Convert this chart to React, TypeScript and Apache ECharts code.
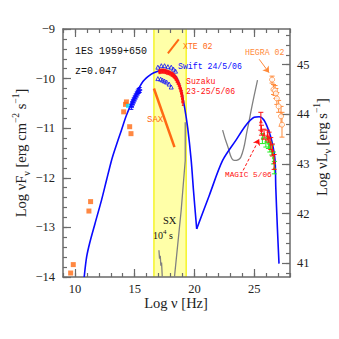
import React, { useEffect, useRef } from 'react';
import * as echarts from 'echarts';

// ---------- axes ----------
const X_MIN = 9, X_MAX = 28;
const Y_MIN = -14, Y_MAX = -9;
const LUM_OFFSET = 54.72; // log(4 pi d_L^2)
const X_MAJOR = [10, 15, 20, 25];
const Y_MAJOR = [-14, -13, -12, -11, -10, -9];
const L_MAJOR = [41, 42, 43, 44, 45];

// ---------- data (log nu, log nuFnu) ----------
const syncModel = [
  [10.775, -14.0], [10.975, -13.6], [11.25, -13.3], [11.67, -12.93], [12.225, -12.45],
  [12.64, -12.05], [13.06, -11.65], [13.33, -11.44], [13.89, -11.04], [14.31, -10.74],
  [14.86, -10.43], [15.69, -10.06], [16.39, -9.91], [16.94, -9.85], [17.33, -9.83],
  [17.75, -9.85], [18.47, -9.96], [18.89, -10.23], [19.17, -10.57], [19.44, -11.0],
  [19.73, -11.65], [19.92, -12.25], [20.19, -13.03],
];
const sscModel = [
  [20.19, -13.03], [21.25, -12.35], [22.36, -11.65], [23.48, -11.24], [24.31, -10.94],
  [25.0, -10.78], [25.42, -10.77], [25.83, -10.84], [26.25, -11.07], [26.53, -11.31],
  [26.75, -11.65], [26.81, -12.19], [26.94, -12.99], [27.08, -13.73],
];
const archival = [
  [14.31, -10.47], [14.23, -10.52], [14.08, -10.67], [14.58, -10.97], [14.69, -11.11],
  [11.31, -12.48], [11.17, -12.67], [9.86, -13.75], [9.64, -13.92],
];
const cyanPoint = [[14.44, -10.55]];
const swiftUV = [
  [14.72, -10.57, 0.05, 0.05], [14.78, -10.52, 0.05, 0.05], [14.85, -10.48, 0.05, 0.05],
  [14.92, -10.44, 0.05, 0.05], [15.0, -10.4, 0.05, 0.05], [15.08, -10.36, 0.05, 0.05],
  [15.17, -10.32, 0.05, 0.05], [15.25, -10.28, 0.05, 0.05], [15.33, -10.25, 0.05, 0.05],
  [15.42, -10.23, 0.05, 0.05],
];
const swiftXrtHigh = [
  [16.94, -9.77], [17.23, -9.74], [17.5, -9.74], [17.78, -9.76], [18.06, -9.77],
  [18.25, -9.81], [18.42, -9.85],
];
const swiftXrtLow = [
  [16.94, -10.0], [17.17, -10.01], [17.33, -10.03], [17.5, -10.05], [17.67, -10.07],
  [17.88, -10.11], [18.06, -10.17],
];
const suzaku = [
  [17.08, -9.86, 0.04, 0.04], [17.2, -9.85, 0.04, 0.04], [17.33, -9.85, 0.04, 0.04],
  [17.45, -9.85, 0.04, 0.04], [17.58, -9.86, 0.04, 0.04], [17.7, -9.87, 0.04, 0.04],
  [17.83, -9.88, 0.04, 0.04], [17.95, -9.89, 0.04, 0.04], [18.08, -9.91, 0.04, 0.04],
  [18.17, -9.92, 0.04, 0.04], [18.25, -9.94, 0.04, 0.04], [18.33, -9.96, 0.04, 0.04],
  [18.42, -9.99, 0.04, 0.04], [18.5, -10.02, 0.05, 0.05], [18.58, -10.06, 0.05, 0.05],
  [18.67, -10.1, 0.05, 0.05], [18.75, -10.15, 0.05, 0.05], [18.82, -10.2, 0.05, 0.05],
  [18.88, -10.25, 0.05, 0.05], [18.93, -10.3, 0.06, 0.06], [18.96, -10.35, 0.06, 0.06],
  [19.0, -10.41, 0.06, 0.06], [19.03, -10.47, 0.07, 0.07],
];
const xte02 = [[17.78, -9.49], [18.69, -9.21]];
const sax = [[16.61, -10.2], [18.33, -11.38]];
const hegra02 = [
  [26.5, -10.02, 0.07, 0.07], [26.62, -10.22, 0.1, 0.1], [26.75, -10.24, 0.1, 0.1],
  [26.82, -10.3, 0.1, 0.1], [26.9, -10.4, 0.12, 0.12], [27.05, -10.56, 0.12, 0.12],
  [27.25, -10.76, 0.2, 0.2], [27.33, -10.93, 0.25, 0.25],
];
const magicRed = [
  [25.56, -10.86, 0.18, 0.18], [25.61, -11.04, 0.1, 0.1], [25.83, -11.12, 0.1, 0.1],
  [26.11, -11.14, 0.1, 0.1], [26.25, -11.18, 0.1, 0.1], [26.39, -11.31, 0.12, 0.12],
  [26.53, -11.44, 0.12, 0.12], [26.67, -11.68, 0.15, 0.15],
];
const magicGreen = [
  [25.69, -11.21, 0.1, 0.1], [25.98, -11.28, 0.1, 0.1], [26.19, -11.31, 0.1, 0.1],
  [26.31, -11.38, 0.1, 0.1], [26.48, -11.44, 0.1, 0.1], [26.61, -11.6, 0.12, 0.12],
  [26.69, -11.82, 0.1, 0.15],
];
const sxSensMain = [[18.33, -14.0], [18.89, -12.66], [19.23, -11.65], [19.23, -10.88]];
const sxSensLeft = [[17.03, -13.46], [17.08, -13.63], [17.14, -13.57], [17.19, -13.77], [17.25, -13.71], [17.31, -14.0]];
const gammaSens = [
  [22.36, -11.04], [22.75, -11.34], [23.33, -11.65], [23.89, -11.58], [24.42, -11.04],
  [24.83, -10.54], [25.28, -10.03],
];
const sxBand = [[16.61, 19.31]];
const hegraArrow = [[25.42, -9.61], [26.25, -9.88]];
const magicArrow = [[24.08, -11.85], [25.42, -11.22]];

// ---------- colors ----------
const BLUE = '#0a0aff';
const RED = '#ff1010';
const ORANGE = '#ff6a13';
const LORANGE = '#ff8a3a';
const GREEN = '#22ee22';
const GREY = '#808080';
const AXIS = '#6a6a6a';

function steps(a: number, b: number, s: number) {
  const out: number[] = [];
  for (let v = a; v <= b + 1e-9; v += s) out.push(Math.round(v * 100) / 100);
  return out;
}

function errSeries(data: number[][], color: string, cap: number, z: number) {
  return {
    type: 'custom', z, silent: true, data, encode: { x: 0, y: 1 },
    renderItem: (_p: any, api: any) => {
      const x = api.value(0), y = api.value(1), lo = api.value(2), hi = api.value(3);
      const a = api.coord([x, y - lo]);
      const b = api.coord([x, y + hi]);
      const st = { stroke: color, lineWidth: 1 };
      return {
        type: 'group',
        children: [
          { type: 'line', shape: { x1: a[0], y1: a[1], x2: b[0], y2: b[1] }, style: st },
          { type: 'line', shape: { x1: a[0] - cap, y1: a[1], x2: a[0] + cap, y2: a[1] }, style: st },
          { type: 'line', shape: { x1: b[0] - cap, y1: b[1], x2: b[0] + cap, y2: b[1] }, style: st },
        ],
      };
    },
  };
}

const serif = 'Liberation Serif';
const mono = 'Liberation Mono';

function label(x: number, y: number, text: string, color: string, size = 8.5, family = mono, rich?: any) {
  return {
    type: 'text', x, y, z: 100,
    style: { text, fill: color, fontSize: size, fontFamily: family, align: 'left', verticalAlign: 'middle', rich },
  };
}

export default function App() {
  const ref = useRef<HTMLDivElement>(null);
  useEffect(() => {
    if (!ref.current) return;
    const chart = echarts.init(ref.current, undefined, { renderer: 'svg' });
    const axLine = { show: true, onZero: false, lineStyle: { color: AXIS, width: 1.5 } };
    const tickLS = { color: AXIS, width: 1.2 };
    const X_MINOR = steps(X_MIN, X_MAX, 1);
    const Y_MINOR = steps(Y_MIN, Y_MAX, 0.2);
    const L_MINOR = steps(40.8, 45.6, 0.2);
    const minusFmt = (v: number) => (v < 0 ? '\u2212' + Math.abs(v) : String(v));
    const lblStyle = { fontSize: 12.5, fontFamily: serif, color: '#222' };

    const xBase = { type: 'value', min: X_MIN, max: X_MAX, splitLine: { show: false } };
    const yBase = { type: 'value', min: Y_MIN, max: Y_MAX, splitLine: { show: false } };
    const lBase = { type: 'value', min: Y_MIN + LUM_OFFSET, max: Y_MAX + LUM_OFFSET, splitLine: { show: false } };

    const subRich = {
      sub: { fontSize: 10, fontFamily: serif, verticalAlign: 'bottom', lineHeight: 20, fill: '#222' },
      sup: { fontSize: 9.5, fontFamily: serif, verticalAlign: 'top', lineHeight: 20, fill: '#222' },
    };

    const option: any = {
      animation: false,
      backgroundColor: '#fff',
      textStyle: { fontFamily: serif },
      grid: { left: 63, right: 49, top: 29, bottom: 62, containLabel: false },
      xAxis: [
        { ...xBase, position: 'bottom', axisLine: axLine,
          axisTick: { show: true, inside: true, length: 8, customValues: X_MAJOR, lineStyle: tickLS },
          axisLabel: { show: true, customValues: X_MAJOR, margin: 5, ...lblStyle } },
        { ...xBase, position: 'bottom', axisLine: { show: false },
          axisTick: { show: true, inside: true, length: 4, customValues: X_MINOR, lineStyle: tickLS },
          axisLabel: { show: false } },
        { ...xBase, position: 'top', axisLine: axLine,
          axisTick: { show: true, inside: true, length: 8, customValues: X_MAJOR, lineStyle: tickLS },
          axisLabel: { show: false } },
        { ...xBase, position: 'top', axisLine: { show: false },
          axisTick: { show: true, inside: true, length: 4, customValues: X_MINOR, lineStyle: tickLS },
          axisLabel: { show: false } },
      ],
      yAxis: [
        { ...yBase, position: 'left', axisLine: axLine,
          axisTick: { show: true, inside: true, length: 8, customValues: Y_MAJOR, lineStyle: tickLS },
          axisLabel: { show: true, customValues: Y_MAJOR, margin: 8, formatter: minusFmt, ...lblStyle } },
        { ...yBase, position: 'left', axisLine: { show: false },
          axisTick: { show: true, inside: true, length: 4, customValues: Y_MINOR, lineStyle: tickLS },
          axisLabel: { show: false } },
        { ...lBase, position: 'right', axisLine: axLine,
          axisTick: { show: true, inside: true, length: 8, customValues: L_MAJOR, lineStyle: tickLS },
          axisLabel: { show: true, customValues: L_MAJOR, margin: 7, ...lblStyle } },
        { ...lBase, position: 'right', axisLine: { show: false },
          axisTick: { show: true, inside: true, length: 4, customValues: L_MINOR, lineStyle: tickLS },
          axisLabel: { show: false } },
      ],
      series: [
        {
          type: 'custom', z: 0, silent: true, data: sxBand, encode: { x: [0, 1] },
          renderItem: (_p: any, api: any) => {
            const a = api.coord([api.value(0), Y_MAX]);
            const b = api.coord([api.value(1), Y_MIN]);
            const shape = { x: a[0], y: a[1], width: b[0] - a[0], height: b[1] - a[1] };
            return {
              type: 'group',
              children: [
                { type: 'rect', shape, style: { fill: '#ffffa8', stroke: 'none' } },
                { type: 'line', shape: { x1: a[0], y1: a[1], x2: a[0], y2: b[1] }, style: { stroke: '#f2f200', lineWidth: 1.2 } },
                { type: 'line', shape: { x1: b[0], y1: a[1], x2: b[0], y2: b[1] }, style: { stroke: '#f2f200', lineWidth: 1.2 } },
              ],
            };
          },
        },
        { type: 'line', z: 2, data: sxSensMain, showSymbol: false, lineStyle: { color: GREY, width: 1.3 } },
        { type: 'line', z: 2, data: sxSensLeft, showSymbol: false, lineStyle: { color: GREY, width: 1.3 } },
        { type: 'line', z: 2, data: gammaSens, smooth: 0.4, showSymbol: false, lineStyle: { color: GREY, width: 1.3 } },
        { type: 'line', z: 3, data: syncModel, smooth: 0.3, showSymbol: false, lineStyle: { color: BLUE, width: 1.6 } },
        { type: 'line', z: 3, data: sscModel, smooth: 0.3, showSymbol: false, lineStyle: { color: BLUE, width: 1.6 } },
        { type: 'line', z: 4, data: xte02, showSymbol: false, lineStyle: { color: ORANGE, width: 2 } },
        { type: 'line', z: 4, data: sax, showSymbol: false, lineStyle: { color: ORANGE, width: 2.5 } },
        { type: 'scatter', z: 4, data: archival, symbol: 'rect', symbolSize: 5, itemStyle: { color: ORANGE } },
        { type: 'scatter', z: 5, data: cyanPoint, symbol: 'rect', symbolSize: 4, itemStyle: { color: '#00e5ff' } },
        errSeries(swiftUV, BLUE, 2, 5),
        { type: 'scatter', z: 5, data: swiftUV.map((d) => [d[0], d[1]]), symbol: 'rect', symbolSize: [5, 2], itemStyle: { color: BLUE } },
        { type: 'scatter', z: 5, data: swiftXrtHigh, symbol: 'triangle', symbolSize: 4, itemStyle: { color: 'transparent', borderColor: BLUE, borderWidth: 1 } },
        { type: 'scatter', z: 5, data: swiftXrtLow, symbol: 'triangle', symbolSize: 4, itemStyle: { color: 'transparent', borderColor: BLUE, borderWidth: 1 } },
        errSeries(suzaku, RED, 1, 6),
        { type: 'scatter', z: 6, data: suzaku.map((d) => [d[0], d[1]]), symbol: 'rect', symbolSize: [3, 3], itemStyle: { color: RED } },
        errSeries(hegra02, LORANGE, 2.5, 6),
        { type: 'scatter', z: 6, data: hegra02.map((d) => [d[0], d[1]]), symbol: 'circle', symbolSize: 5, itemStyle: { color: '#fff', borderColor: LORANGE, borderWidth: 1 } },
        errSeries(magicGreen, GREEN, 2.5, 6),
        { type: 'scatter', z: 6, data: magicGreen.map((d) => [d[0], d[1]]), symbol: 'circle', symbolSize: 3, itemStyle: { color: GREEN } },
        errSeries(magicRed, RED, 2.5, 7),
        { type: 'scatter', z: 7, data: magicRed.map((d) => [d[0], d[1]]), symbol: 'triangle', symbolSize: 4, itemStyle: { color: RED } },
        { type: 'lines', z: 8, coordinateSystem: 'cartesian2d', xAxisIndex: 0, yAxisIndex: 0, symbol: ['none', 'arrow'], symbolSize: 6,
          lineStyle: { color: LORANGE, width: 1, opacity: 1 }, data: [{ coords: hegraArrow }] },
        { type: 'lines', z: 8, coordinateSystem: 'cartesian2d', xAxisIndex: 0, yAxisIndex: 0, symbol: ['none', 'arrow'], symbolSize: 6,
          lineStyle: { color: RED, width: 1, type: [3, 2], opacity: 1 }, data: [{ coords: magicArrow }] },
      ],
      graphic: [
        label(75, 51, '1ES 1959+650', '#111', 10),
        label(75, 71, 'z=0.047', '#111', 10),
        label(183, 46, 'XTE 02', ORANGE, 8.2),
        label(178, 66, 'Swift 24/5/06', BLUE, 8.2),
        label(186, 81, 'Suzaku', RED, 8.2),
        label(186, 91, '23-25/5/06', RED, 8.2),
        label(147, 120, 'SAX', ORANGE, 9),
        label(245, 52, 'HEGRA 02', LORANGE, 8.2),
        label(225, 175, 'MAGIC 5/06', RED, 7.8),
        label(163, 220, 'SX', '#111', 10.5, serif),
        label(153, 235, '10{sup|4} s', '#111', 10, serif, { sup: { fontSize: 7, fontFamily: serif, verticalAlign: 'top', lineHeight: 14, fill: '#111' } }),
        {
          type: 'text', x: 176, y: 303, z: 100,
          style: { text: 'Log \u03bd [Hz]', fontSize: 14.5, fontFamily: serif, fill: '#222', align: 'center', verticalAlign: 'middle' },
        },
        {
          type: 'text', x: 21, y: 153, rotation: Math.PI / 2, z: 100,
          style: { text: 'Log \u03bdF{sub|\u03bd} [erg cm{sup|\u22122} s{sup|\u22121}]', fontSize: 14.5, fontFamily: serif, fill: '#222', align: 'center', verticalAlign: 'middle', lineHeight: 20, rich: subRich },
        },
        {
          type: 'text', x: 322, y: 147, rotation: Math.PI / 2, z: 100,
          style: { text: 'Log \u03bdL{sub|\u03bd} [erg s{sup|\u22121}]', fontSize: 14.5, fontFamily: serif, fill: '#222', align: 'center', verticalAlign: 'middle', lineHeight: 20, rich: subRich },
        },
      ],
    };
    chart.setOption(option);
    return () => chart.dispose();
  }, []);
  return <div ref={ref} style={{ position: 'absolute', left: 0, top: 0, width: 339, height: 339 }} />;
}
